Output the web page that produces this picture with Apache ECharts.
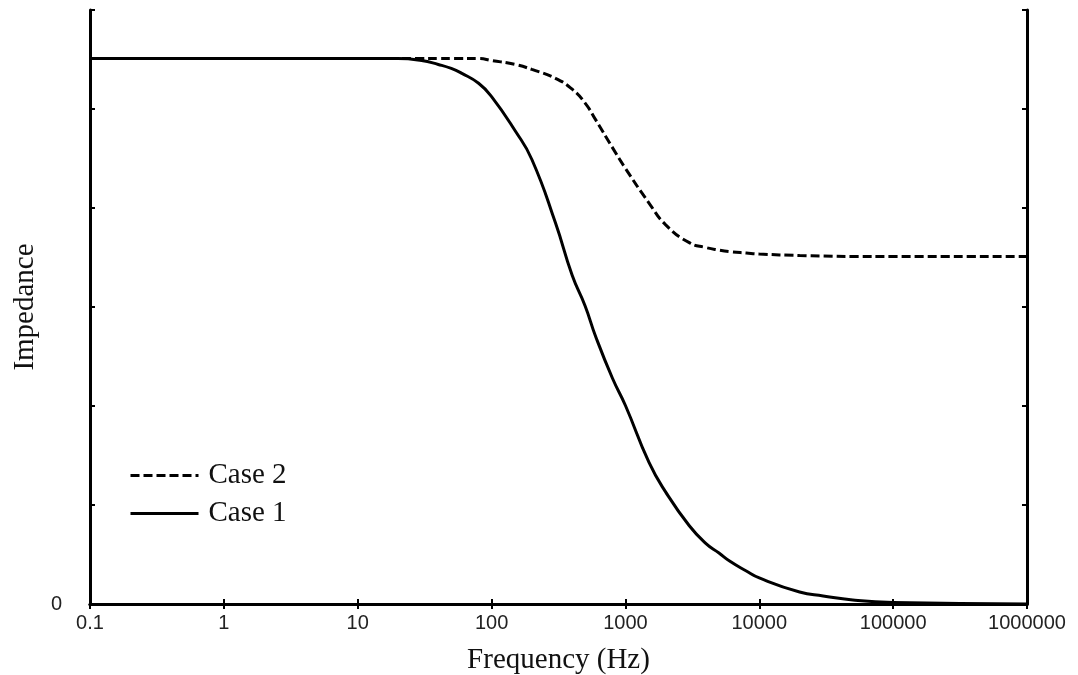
<!DOCTYPE html>
<html>
<head>
<meta charset="utf-8">
<script src="https://cdn.jsdelivr.net/npm/echarts@6/dist/echarts.min.js"></script>
<style>
  html, body { margin: 0; padding: 0; background: #fff; }
  #chart { width: 1078px; height: 675px; }
</style>
</head>
<body>
<div id="chart"></div>
<script>
// Frequency sample points (Hz)
const frequency = [0.1, 1, 10, 20, 30, 40, 50, 60, 80,
                   100, 150, 200, 300, 400, 500, 600, 800,
                   1000, 1500, 2000, 3000, 4000, 5000, 6000, 8000,
                   10000, 20000, 30000, 50000, 100000, 1000000];
// Impedance magnitude, Case 1 (solid)
const case1 = [5.51, 5.51, 5.51, 5.51, 5.49, 5.45, 5.41, 5.36, 5.26,
               5.125, 4.78, 4.49, 3.85, 3.32, 3.01, 2.70, 2.28,
               2.005, 1.43, 1.13, 0.79, 0.61, 0.515, 0.434, 0.333,
               0.263, 0.121, 0.081, 0.04, 0.015, 0.0];
// Impedance magnitude, Case 2 (dashed)
const case2 = [5.51, 5.51, 5.51, 5.51, 5.51, 5.51, 5.51, 5.51, 5.51,
               5.49, 5.45, 5.40, 5.31, 5.20, 5.06, 4.89, 4.61,
               4.40, 4.05, 3.83, 3.65, 3.60, 3.575, 3.56, 3.545,
               3.535, 3.52, 3.515, 3.51, 3.51, 3.51];
const seriesNames = ['Case 2', 'Case 1'];

const pairs = vals => frequency.map((f, i) => [f, vals[i]]);

const serif = '"Liberation Serif", "Times New Roman", serif';
const sans = '"Liberation Sans", Arial, sans-serif';
const axisLine = { show: true, lineStyle: { color: '#000', width: 3 } };
const innerTick = { show: true, inside: true, length: 5, lineStyle: { color: '#000', width: 2 } };
const dashed = { color: '#000', width: 3, type: [9, 4] };
const solid = { color: '#000', width: 3, type: 'solid' };

const chart = echarts.init(document.getElementById('chart'), null, { renderer: 'canvas' });
chart.setOption({
  animation: false,
  backgroundColor: '#fff',
  grid: { left: 90, right: 51, top: 10, bottom: 71, containLabel: false, outerBoundsMode: 'none' },
  legend: {
    data: [
      { name: seriesNames[0], lineStyle: dashed },
      { name: seriesNames[1], lineStyle: solid }
    ],
    orient: 'vertical',
    left: 124,
    top: 456,
    itemWidth: 68,
    itemHeight: 14,
    itemGap: 9,
    itemStyle: { opacity: 0 },
    textStyle: { fontFamily: serif, fontSize: 29, color: '#111', padding: [0, 0, 0, 5] }
  },
  xAxis: [{
    type: 'log',
    logBase: 10,
    min: 0.1,
    max: 1000000,
    splitNumber: 7,
    name: 'Frequency (Hz)',
    nameLocation: 'middle',
    nameGap: 42,
    nameTextStyle: { fontFamily: serif, fontSize: 29, color: '#111' },
    axisLine: axisLine,
    axisTick: innerTick,
    splitLine: { show: false },
    axisLabel: {
      fontFamily: sans, fontSize: 20, color: '#222', margin: 9,
      formatter: v => String(+Number(v).toPrecision(6))
    }
  }, {
    type: 'log',
    logBase: 10,
    min: 0.1,
    max: 1000000,
    splitNumber: 7,
    position: 'top',
    axisLine: axisLine,
    axisTick: innerTick,
    splitLine: { show: false },
    axisLabel: { show: false }
  }],
  yAxis: [{
    type: 'value',
    min: 0,
    max: 6,
    interval: 1,
    name: 'Impedance',
    nameLocation: 'middle',
    nameGap: 49,
    nameTextStyle: { fontFamily: serif, fontSize: 29, color: '#111' },
    axisLine: axisLine,
    axisTick: innerTick,
    splitLine: { show: false },
    axisLabel: {
      fontFamily: sans, fontSize: 20, color: '#222', margin: 28,
      formatter: v => (v === 0 ? '0' : '')
    }
  }, {
    type: 'value',
    min: 0,
    max: 6,
    interval: 1,
    position: 'right',
    axisLine: axisLine,
    axisTick: innerTick,
    splitLine: { show: false },
    axisLabel: { show: false }
  }],
  series: [{
    name: 'Case 2',
    type: 'line',
    smooth: 0.5,
    symbol: 'none',
    data: pairs(case2),
    lineStyle: dashed,
    itemStyle: { color: '#000' }
  }, {
    name: 'Case 1',
    type: 'line',
    smooth: 0.5,
    symbol: 'none',
    data: pairs(case1),
    lineStyle: solid,
    itemStyle: { color: '#000' }
  }]
});
</script>
</body>
</html>
